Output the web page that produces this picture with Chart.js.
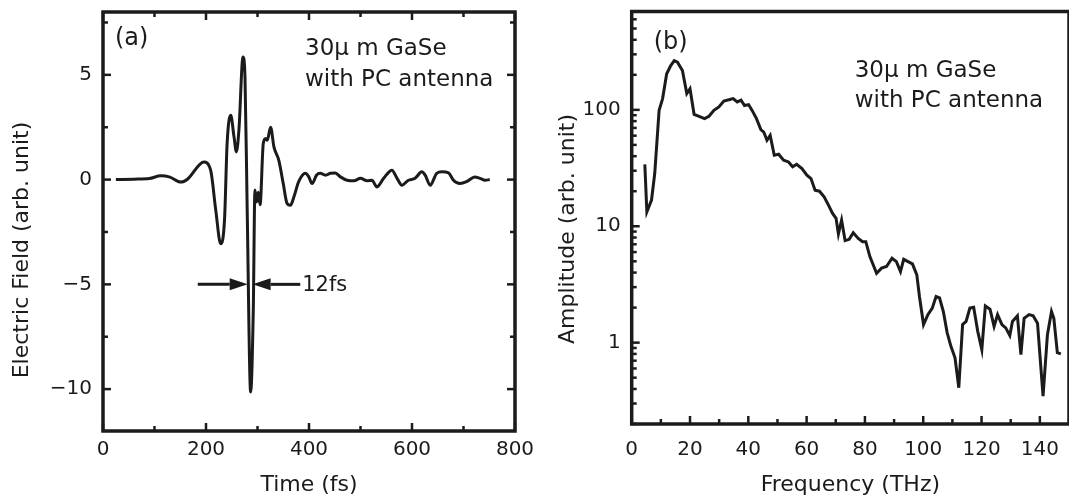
<!DOCTYPE html>
<html><head><meta charset="utf-8">
<script src="https://cdn.jsdelivr.net/npm/chart.js@4.4.0/dist/chart.umd.min.js"></script>
<style>
html,body{margin:0;padding:0;background:#fff;overflow:hidden;width:1069px;height:502px;position:relative;}
#ca{position:absolute;left:0;top:0;}
#cb{position:absolute;left:540px;top:0;}
</style></head><body>
<canvas id="ca" width="540" height="502"></canvas>
<canvas id="cb" width="540" height="502"></canvas>
<script>
// ---------- Panel (a): time-domain field ----------
const timeFs = [25, 60, 90, 112, 130, 151, 164, 196, 209, 219, 228.5, 236, 241, 248, 254.4, 259, 264, 271.8, 275.7, 280, 286.7, 291.8, 295, 298.3, 301.5, 305, 311.2, 316, 319, 325.4, 332, 341.5, 350, 357.6, 364, 370.6, 380, 393, 399.6, 406, 414.5, 422, 432, 441.6, 451, 461, 474, 487, 500, 513, 522, 532, 545, 561, 571, 580.4, 593, 606, 619, 625.6, 635.3, 648, 658, 671, 680.5, 693, 706, 722, 732, 742, 751];
const fieldArb = [0, 0.02, 0.05, 0.18, 0.12, -0.12, 0.02, 0.84, 0.45, -1.47, -3.06, -1.9, 1.72, 3.07, 2.04, 1.32, 2.4, 5.85, 4.9, -1.47, -10.14, -6.24, -0.5, -1.07, -0.6, -1.2, 1.72, 1.96, 1.88, 2.5, 1.55, 0.91, -0.19, -1.15, -1.23, -0.83, -0.1, 0.3, 0.13, -0.19, 0.21, 0.3, 0.21, 0.3, 0.32, 0.13, -0.03, -0.06, 0.06, -0.06, -0.03, -0.35, 0.06, 0.45, 0.06, -0.27, -0.03, 0.06, 0.37, 0.21, -0.27, 0.3, 0.37, 0.32, -0.03, -0.19, -0.1, 0.13, 0.06, -0.03, 0];
const timeTicks = [0, 100, 200, 300, 400, 500, 600, 700, 800];
const timeLabels = [0, 200, 400, 600, 800];
const fieldTicks = [-10, -7.5, -5, -2.5, 0, 2.5, 5, 7.5];
const fieldLabels = [-10, -5, 0, 5];
const pulseArrowLeft = [184, 281];   // fs: tail, tip
const pulseArrowRight = [383, 290.5]; // fs: tail, tip
const pulseArrowLevel = -5;
const pulseWidthText = '12fs';

// ---------- Panel (b): amplitude spectrum ----------
const freqTHz = [4.5, 5.2, 6.8, 7.9, 9.4, 10.6, 12.0, 13.4, 14.6, 15.7, 17.4, 18.9, 20.0, 21.4, 23.1, 25.0, 26.5, 28.2, 29.9, 31.6, 33.3, 34.8, 36.2, 37.5, 38.7, 40.1, 41.3, 42.8, 44.3, 45.3, 46.4, 47.5, 48.9, 50.4, 52.1, 53.8, 55.2, 56.6, 58.4, 60.1, 61.5, 62.9, 64.4, 66.0, 67.5, 68.9, 70.1, 70.9, 72.0, 73.2, 74.6, 76.0, 77.7, 79.2, 80.3, 81.7, 84.0, 85.7, 87.4, 89.3, 90.8, 92.2, 93.3, 94.8, 96.3, 97.8, 98.7, 100.1, 101.6, 103.1, 104.4, 105.6, 106.9, 108.2, 109.5, 110.9, 112.2, 113.5, 114.7, 116.0, 117.3, 118.7, 120.1, 121.3, 122.9, 124.3, 125.5, 127.0, 128.3, 129.7, 130.6, 132.3, 133.5, 134.6, 136.3, 137.7, 139.2, 141.1, 142.6, 144.0, 144.8, 146.0, 147.2];
const amplitude = [34, 13.3, 16.8, 28.4, 99, 125, 204, 240, 265, 257, 218, 138, 152, 91.5, 88, 84, 88, 99, 106, 119, 122, 125, 117, 121, 109, 111, 99, 84, 67.7, 64.5, 54.8, 60.4, 40.8, 41.6, 36.9, 35.7, 32.4, 34.1, 31.3, 27.5, 25.7, 20.4, 20.0, 17.9, 15.2, 12.9, 11.7, 8.59, 11.3, 7.52, 7.72, 8.81, 7.87, 7.37, 7.37, 5.49, 3.95, 4.37, 4.51, 5.31, 4.97, 4.08, 5.2, 4.97, 4.75, 3.82, 2.49, 1.43, 1.74, 1.98, 2.49, 2.42, 1.85, 1.22, 0.93, 0.74, 0.41, 1.43, 1.52, 1.98, 2.01, 1.25, 0.87, 2.07, 1.94, 1.38, 1.74, 1.43, 1.34, 1.15, 1.52, 1.70, 0.79, 1.62, 1.74, 1.70, 1.47, 0.347, 1.17, 1.85, 1.62, 0.82, 0.8];
const freqTicks = [0, 10, 20, 30, 40, 50, 60, 70, 80, 90, 100, 110, 120, 130, 140, 150];
const freqLabels = [0, 20, 40, 60, 80, 100, 120, 140];
const ampTicks = [0.2, 0.3, 0.4, 0.5, 0.6, 0.7, 0.8, 0.9, 1, 2, 3, 4, 5, 6, 7, 8, 9, 10, 20, 30, 40, 50, 60, 70, 80, 90, 100, 200, 300, 400, 500, 600, 700];
const ampLabels = [1, 10, 100];

const sampleText = ['30\u03bc m GaSe', 'with PC antenna'];
const titleA = 'Electric Field (arb. unit)';
const titleB = 'Amplitude (arb. unit)';

// ---------- shared styling ----------
const INK = '#1b1b1b';
const FONT = "'DejaVu Sans', sans-serif";
Chart.defaults.font.family = FONT;
Chart.defaults.color = INK;

const fmt = v => String(v).replace('-', '\u2212');
const noPad = s => { s.paddingTop = 0; s.paddingBottom = 0; s.paddingLeft = 0; s.paddingRight = 0; };

function framePlugin(majorX, majorY, withTop, withRight) {
  return {
    id: 'frame',
    afterDatasetsDraw(chart) {
      const {ctx, chartArea: a, scales} = chart;
      ctx.save();
      ctx.strokeStyle = INK;
      ctx.lineCap = 'butt';
      ctx.lineWidth = 2.5;
      const seg = (x1, y1, x2, y2) => { ctx.beginPath(); ctx.moveTo(x1, y1); ctx.lineTo(x2, y2); ctx.stroke(); };
      scales.x.ticks.forEach(t => {
        const px = scales.x.getPixelForValue(t.value);
        const len = majorX.includes(t.value) ? 8 : 5;
        seg(px, a.bottom, px, a.bottom - len);
        if (withTop) seg(px, a.top, px, a.top + len);
      });
      scales.y.ticks.forEach(t => {
        const py = scales.y.getPixelForValue(t.value);
        const len = majorY.includes(t.value) ? 8 : 5;
        seg(a.left, py, a.left + len, py);
        if (withRight) seg(a.right, py, a.right - len, py);
      });
      ctx.lineWidth = 3.5;
      ctx.strokeRect(a.left, a.top, a.right - a.left, a.bottom - a.top);
      ctx.restore();
    }
  };
}

function arrow(ctx, x1, x2, y) {
  const dir = Math.sign(x2 - x1);
  const hl = 18, hw = 6;
  ctx.beginPath(); ctx.moveTo(x1, y); ctx.lineTo(x2 - dir * hl, y); ctx.stroke();
  ctx.beginPath(); ctx.moveTo(x2, y); ctx.lineTo(x2 - dir * hl, y - hw); ctx.lineTo(x2 - dir * hl, y + hw); ctx.closePath(); ctx.fill();
}

function vTitle(ctx, text, cx, cy) {
  ctx.save();
  ctx.translate(cx, cy);
  ctx.rotate(-Math.PI / 2);
  ctx.textAlign = 'center'; ctx.textBaseline = 'middle';
  ctx.font = `22px ${FONT}`;
  ctx.fillText(text, 0, 0);
  ctx.restore();
}

const annotA = {
  id: 'annotA',
  afterDraw(chart) {
    const {ctx, chartArea: a, scales: {x, y}} = chart;
    ctx.save();
    ctx.fillStyle = INK; ctx.strokeStyle = INK; ctx.lineWidth = 3;
    ctx.textBaseline = 'alphabetic'; ctx.textAlign = 'left';
    ctx.font = `24px ${FONT}`;
    ctx.fillText('(a)', a.left + 12, a.top + 33);
    ctx.font = `23px ${FONT}`;
    ctx.fillText(sampleText[0], a.left + 202, a.top + 43);
    ctx.fillText(sampleText[1], a.left + 202, a.top + 74);
    const py = y.getPixelForValue(pulseArrowLevel);
    arrow(ctx, x.getPixelForValue(pulseArrowLeft[0]), x.getPixelForValue(pulseArrowLeft[1]), py);
    arrow(ctx, x.getPixelForValue(pulseArrowRight[0]), x.getPixelForValue(pulseArrowRight[1]), py);
    ctx.font = `21px ${FONT}`;
    ctx.textBaseline = 'middle';
    ctx.fillText(pulseWidthText, x.getPixelForValue(pulseArrowRight[0]) + 2, py + 1);
    vTitle(ctx, titleA, 22, 250);
    ctx.restore();
  }
};

const annotB = {
  id: 'annotB',
  afterDraw(chart) {
    const {ctx, chartArea: a} = chart;
    ctx.save();
    ctx.fillStyle = INK;
    ctx.textBaseline = 'alphabetic'; ctx.textAlign = 'left';
    ctx.font = `24px ${FONT}`;
    ctx.fillText('(b)', a.left + 22, a.top + 37);
    ctx.font = `23px ${FONT}`;
    ctx.fillText(sampleText[0], a.left + 223, a.top + 65);
    ctx.fillText(sampleText[1], a.left + 223, a.top + 95);
    vTitle(ctx, titleB, 28, 229);
    ctx.restore();
  }
};

const tickFont = {family: FONT, size: 20};
const titleFont = {family: FONT, size: 22};

// ---------- Chart (a) ----------
new Chart(document.getElementById('ca'), {
  type: 'line',
  data: {
    datasets: [{
      data: timeFs.map((t, i) => ({x: t, y: fieldArb[i]})),
      borderColor: INK, borderWidth: 3, pointRadius: 0,
      cubicInterpolationMode: 'monotone', fill: false
    }]
  },
  options: {
    responsive: false, animation: false,
    layout: {padding: {left: 5, top: 12, right: 25, bottom: 0}},
    plugins: {legend: {display: false}, tooltip: {enabled: false}},
    scales: {
      x: {
        type: 'linear', min: 0, max: 800,
        afterBuildTicks: s => { s.ticks = timeTicks.map(v => ({value: v})); },
        afterFit: s => { s.height = 71; noPad(s); },
        grid: {display: false, drawTicks: false}, border: {display: false},
        ticks: {autoSkip: false, maxRotation: 0, padding: 7, font: tickFont, color: INK,
          callback: v => timeLabels.includes(v) ? fmt(v) : ''},
        title: {display: true, text: 'Time (fs)', font: titleFont, color: INK, padding: {top: 0, bottom: 4}}
      },
      y: {
        type: 'linear', min: -12, max: 8,
        afterBuildTicks: s => { s.ticks = fieldTicks.map(v => ({value: v})); },
        afterFit: s => { s.width = 98; noPad(s); },
        grid: {display: false, drawTicks: false}, border: {display: false},
        ticks: {autoSkip: false, padding: 11, font: tickFont, color: INK,
          callback: v => fieldLabels.includes(v) ? fmt(v) : ''},
        title: {display: false}
      }
    }
  },
  plugins: [framePlugin(timeLabels, fieldLabels, true, true), annotA]
});

// ---------- Chart (b) ----------
new Chart(document.getElementById('cb'), {
  type: 'line',
  data: {
    datasets: [{
      data: freqTHz.map((f, i) => ({x: f, y: amplitude[i]})),
      borderColor: INK, borderWidth: 3, pointRadius: 0, tension: 0, fill: false
    }]
  },
  options: {
    responsive: false, animation: false,
    layout: {padding: {left: 11, top: 11.5, right: 11, bottom: 0}},
    plugins: {legend: {display: false}, tooltip: {enabled: false}},
    scales: {
      x: {
        type: 'linear', min: 0, max: 150,
        afterBuildTicks: s => { s.ticks = freqTicks.map(v => ({value: v})); },
        afterFit: s => { s.height = 78; noPad(s); },
        grid: {display: false, drawTicks: false}, border: {display: false},
        ticks: {autoSkip: false, maxRotation: 0, padding: 14, font: tickFont, color: INK,
          callback: v => freqLabels.includes(v) ? fmt(v) : ''},
        title: {display: true, text: 'Frequency (THz)', font: titleFont, color: INK, padding: {top: 0, bottom: 4}}
      },
      y: {
        type: 'logarithmic', min: 0.2, max: 700,
        afterBuildTicks: s => { s.ticks = ampTicks.map(v => ({value: v})); },
        afterFit: s => { s.width = 80.7; noPad(s); },
        grid: {display: false, drawTicks: false}, border: {display: false},
        ticks: {autoSkip: false, padding: 11, font: tickFont, color: INK,
          callback: v => ampLabels.includes(v) ? String(v) : ''},
        title: {display: false}
      }
    }
  },
  plugins: [framePlugin(freqLabels, ampLabels, false, false), annotB]
});
</script>
</body></html>
